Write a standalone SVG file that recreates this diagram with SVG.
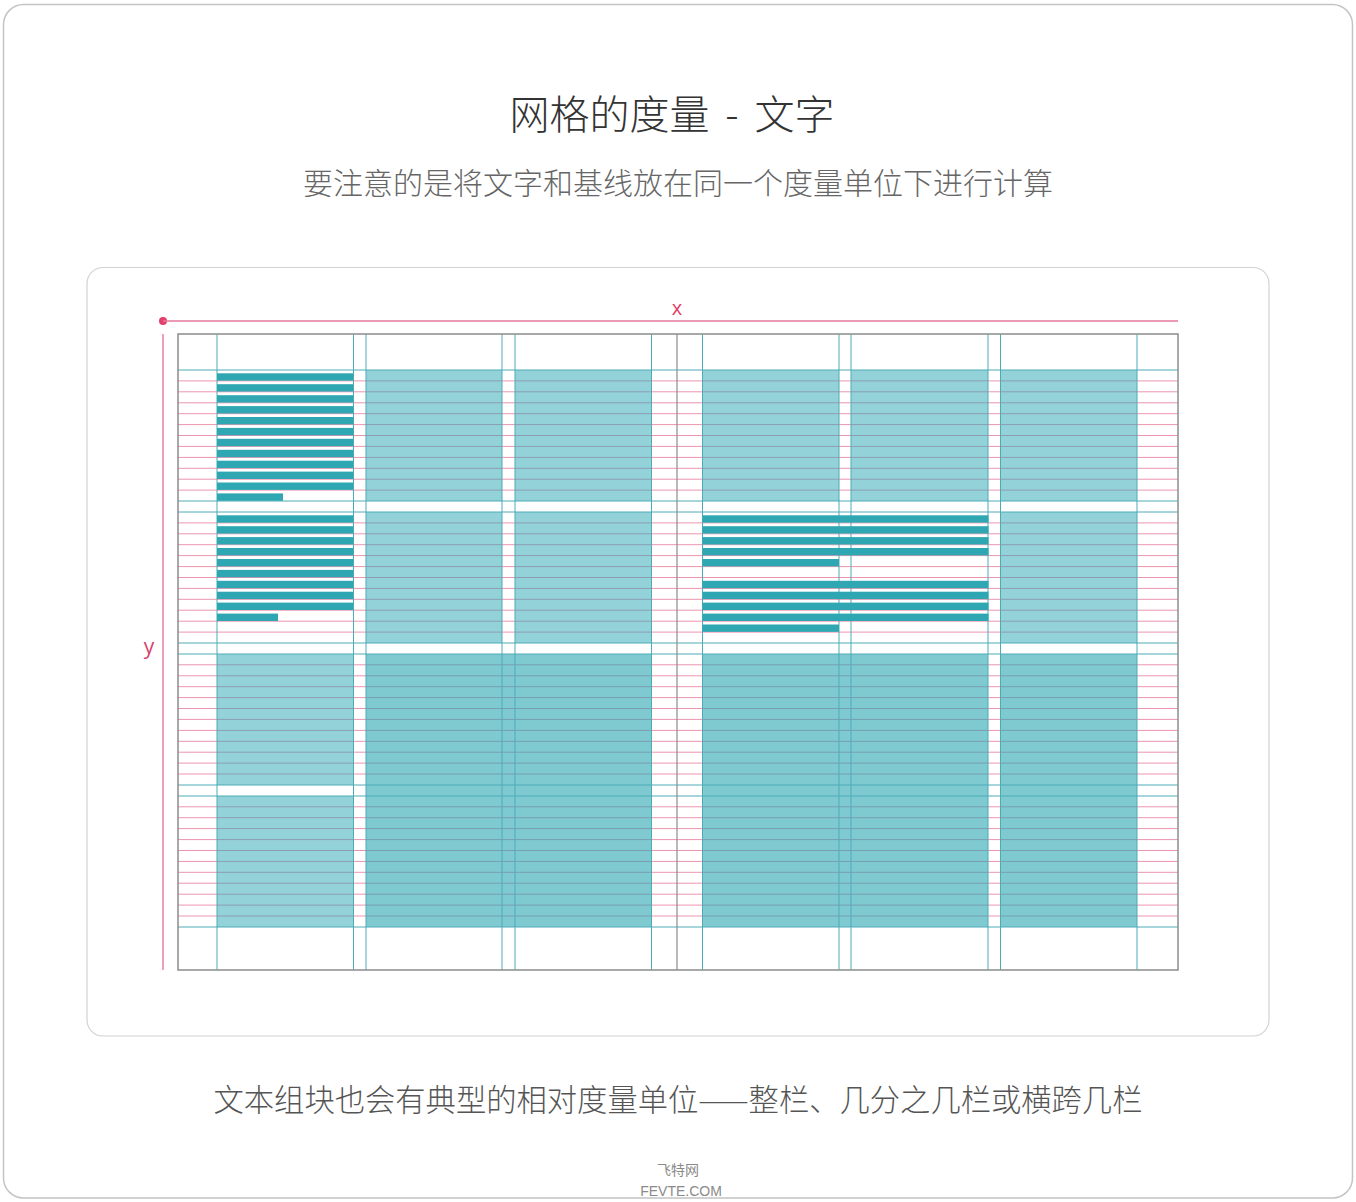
<svg xmlns="http://www.w3.org/2000/svg" width="1356" height="1202" viewBox="0 0 1356 1202">
<style>
.cjk{font-family:"Noto Sans CJK SC","Noto Sans",sans-serif}
.frame{fill:#fff;stroke:#c4c4c4;stroke-width:1.5}
.inner{fill:#fff;stroke:#d2d2d2;stroke-width:1.2}
.base{stroke:#ec94ae;stroke-width:1;fill:none}
.lt{fill:#2aa5b3;fill-opacity:0.5}
.dk{fill:#2aa5b3;fill-opacity:0.6}
.gl{stroke:#4cacb6;stroke-width:1;fill:none}
.bar{fill:#2fa7b3}
.red{stroke:#e6789b;stroke-width:1.4;fill:none}
</style>
<rect width="1356" height="1202" fill="#fff"/>
<rect class="frame" x="3.5" y="4.5" width="1349" height="1193.5" rx="20"/>
<g id="header">
<text class="cjk" x="672" y="129" font-size="40" font-weight="300" fill="#333" text-anchor="middle" word-spacing="7">网格的度量 - 文字</text>
<text class="cjk" x="678" y="194" font-size="30" font-weight="300" fill="#666" text-anchor="middle">要注意的是将文字和基线放在同一个度量单位下进行计算</text>
</g>
<rect class="inner" x="87" y="267.5" width="1182" height="768.5" rx="16"/>
<g id="baselines">
<path class="base" d="M178 380.9H1178M178 391.8H1178M178 402.8H1178M178 413.7H1178M178 424.6H1178M178 435.5H1178M178 446.4H1178M178 457.4H1178M178 468.3H1178M178 479.2H1178M178 490.1H1178
M178 522.9H1178M178 533.8H1178M178 544.7H1178M178 555.6H1178M178 566.6H1178M178 577.5H1178M178 588.4H1178M178 599.3H1178M178 610.2H1178M178 621.2H1178M178 632.1H1178
M178 664.8H1178M178 675.8H1178M178 686.7H1178M178 697.6H1178M178 708.5H1178M178 719.4H1178M178 730.4H1178M178 741.3H1178M178 752.2H1178M178 763.1H1178M178 774.0H1178
M178 806.8H1178M178 817.7H1178M178 828.6H1178M178 839.6H1178M178 850.5H1178M178 861.4H1178M178 872.3H1178M178 883.2H1178M178 894.2H1178M178 905.1H1178M178 916.0H1178"/>
</g>
<g id="modules">
<rect class="lt" x="366" y="370" width="136" height="131"/>
<rect class="lt" x="515" y="370" width="136" height="131"/>
<rect class="lt" x="702" y="370" width="137" height="131"/>
<rect class="lt" x="851" y="370" width="137" height="131"/>
<rect class="lt" x="1000" y="370" width="137" height="131"/>
<rect class="lt" x="366" y="512" width="136" height="131"/>
<rect class="lt" x="515" y="512" width="136" height="131"/>
<rect class="lt" x="1000" y="512" width="137" height="131"/>
<rect class="lt" x="217" y="654" width="136" height="131"/>
<rect class="lt" x="217" y="796" width="136" height="131"/>
<rect class="dk" x="366" y="654" width="285" height="273"/>
<rect class="dk" x="702" y="654" width="286" height="273"/>
<rect class="dk" x="1000" y="654" width="137" height="273"/>
</g>
<g id="gridlines">
<path class="gl" d="M178 370H1178M178 501H1178M178 512H1178M178 643H1178M178 654H1178M178 785H1178M178 796H1178M178 927H1178"/>
<path class="gl" d="M217 334V970M353.5 334V970M366 334V970M502 334V970M515 334V970M651.5 334V970M702.5 334V970M839 334V970M851 334V970M988 334V970M1000.5 334V970M1137 334V970"/>
<path d="M677 334V970" stroke="#8c8c8c" stroke-width="1.2" fill="none"/>
<rect x="178" y="334" width="1000" height="636" fill="none" stroke="#8c8c8c" stroke-width="1.5"/>
</g>
<g id="text-block-1">
<rect class="bar" x="217" y="373.3" width="136" height="7.4"/>
<rect class="bar" x="217" y="384.2" width="136" height="7.4"/>
<rect class="bar" x="217" y="395.2" width="136" height="7.4"/>
<rect class="bar" x="217" y="406.1" width="136" height="7.4"/>
<rect class="bar" x="217" y="417.0" width="136" height="7.4"/>
<rect class="bar" x="217" y="427.9" width="136" height="7.4"/>
<rect class="bar" x="217" y="438.8" width="136" height="7.4"/>
<rect class="bar" x="217" y="449.8" width="136" height="7.4"/>
<rect class="bar" x="217" y="460.7" width="136" height="7.4"/>
<rect class="bar" x="217" y="471.6" width="136" height="7.4"/>
<rect class="bar" x="217" y="482.5" width="136" height="7.4"/>
<rect class="bar" x="217" y="493.4" width="66" height="7.4"/>
</g>
<g id="text-block-2">
<rect class="bar" x="217" y="515.3" width="136" height="7.4"/>
<rect class="bar" x="217" y="526.2" width="136" height="7.4"/>
<rect class="bar" x="217" y="537.1" width="136" height="7.4"/>
<rect class="bar" x="217" y="548.0" width="136" height="7.4"/>
<rect class="bar" x="217" y="559.0" width="136" height="7.4"/>
<rect class="bar" x="217" y="569.9" width="136" height="7.4"/>
<rect class="bar" x="217" y="580.8" width="136" height="7.4"/>
<rect class="bar" x="217" y="591.7" width="136" height="7.4"/>
<rect class="bar" x="217" y="602.6" width="136" height="7.4"/>
<rect class="bar" x="217" y="613.6" width="61" height="7.4"/>
</g>
<g id="text-block-3">
<rect class="bar" x="702.5" y="515.3" width="286" height="7.4"/>
<rect class="bar" x="702.5" y="526.2" width="286" height="7.4"/>
<rect class="bar" x="702.5" y="537.1" width="286" height="7.4"/>
<rect class="bar" x="702.5" y="548.0" width="286" height="7.4"/>
<rect class="bar" x="702.5" y="559.0" width="136.5" height="7.4"/>
<rect class="bar" x="702.5" y="580.8" width="286" height="7.4"/>
<rect class="bar" x="702.5" y="591.7" width="286" height="7.4"/>
<rect class="bar" x="702.5" y="602.6" width="286" height="7.4"/>
<rect class="bar" x="702.5" y="613.6" width="286" height="7.4"/>
<rect class="bar" x="702.5" y="624.5" width="136.5" height="7.4"/>
</g>
<g id="axes">
<circle cx="163" cy="321" r="4" fill="#e0406a"/>
<path class="red" d="M163 321H1178M163 334V970"/>
<text x="677" y="315" font-family="'Open Sans','Liberation Sans',sans-serif" font-size="20" fill="#e0406a" text-anchor="middle">x</text>
<text x="149" y="654" font-family="'Open Sans','Liberation Sans',sans-serif" font-size="21" fill="#d8446e" text-anchor="middle">y</text>
</g>
<g id="caption">
<text class="cjk" x="678" y="1111" font-size="30.3" font-weight="300" fill="#555" text-anchor="middle">文本组块也会有典型的相对度量单位——整栏、几分之几栏或横跨几栏</text>
</g>
<g id="watermark">
<text class="cjk" x="678" y="1175" font-size="14" fill="#8a8a8a" text-anchor="middle">飞特网</text>
<text x="681" y="1196" font-family="'Liberation Sans',sans-serif" font-size="14" fill="#8a8a8a" text-anchor="middle">FEVTE.COM</text>
</g>
</svg>
